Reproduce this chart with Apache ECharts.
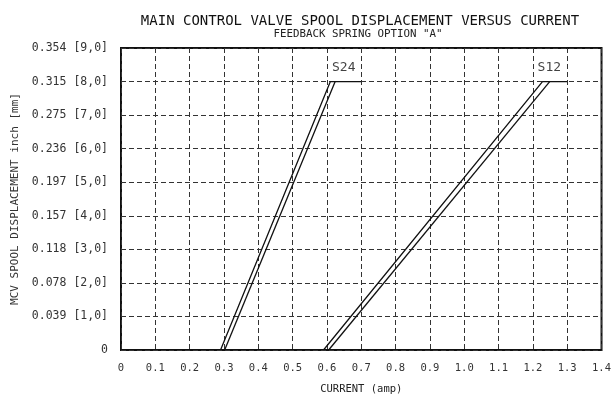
<!DOCTYPE html>
<html>
<head>
<meta charset="utf-8">
<script src="https://cdn.jsdelivr.net/npm/echarts@6/dist/echarts.min.js"></script>
<style>html,body{margin:0;padding:0;background:#fff;}#c{width:614px;height:400px;}</style>
</head>
<body>
<div id="c"></div>
<script>
// Data (x: current in amp, y: spool displacement in mm)
const xTickLabels = ['0','0.1','0.2','0.3','0.4','0.5','0.6','0.7','0.8','0.9','1.0','1.1','1.2','1.3','1.4'];
const yTickLabels = ['0','0.039 [1,0]','0.078 [2,0]','0.118 [3,0]','0.157 [4,0]','0.197 [5,0]','0.236 [6,0]','0.275 [7,0]','0.315 [8,0]','0.354 [9,0]'];
const s24Outer = [[0.290, 0], [0.610, 8], [0.700, 8]];
const s24Inner = [[0.302, 0], [0.624, 8]];
const s12Outer = [[0.590, 0], [1.228, 8], [1.300, 8]];
const s12Inner = [[0.605, 0], [1.249, 8]];
const curveLabels = [{ name: 'S24', value: [0.649, 8] }, { name: 'S12', value: [1.248, 8] }];

const FONT = '"DejaVu Sans Mono", monospace';
const chart = echarts.init(document.getElementById('c'), null, { renderer: 'canvas' });

function lineSeries(data) {
  return {
    type: 'line', data: data, symbol: 'none', silent: true,
    lineStyle: { color: '#111', width: 1.3 }, z: 5
  };
}

chart.setOption({
  animation: false,
  backgroundColor: '#fff',
  title: [{
    text: 'MAIN CONTROL VALVE SPOOL DISPLACEMENT VERSUS CURRENT',
    left: 355, top: 9, textAlign: 'center',
    textStyle: { fontFamily: FONT, fontSize: 14, fontWeight: 'normal', color: '#111' }
  }, {
    text: 'FEEDBACK SPRING OPTION "A"',
    left: 353, top: 24, textAlign: 'center',
    textStyle: { fontFamily: FONT, fontSize: 10.8, fontWeight: 'normal', color: '#222' }
  }],
  grid: {
    left: 121, right: 12, top: 48, bottom: 46,
    show: true, borderColor: '#111', borderWidth: 2, backgroundColor: 'transparent'
  },
  xAxis: {
    type: 'value', min: 0, max: 1.4, interval: 0.1,
    name: 'CURRENT (amp)', nameLocation: 'middle', nameGap: 34,
    nameTextStyle: { fontFamily: FONT, fontSize: 10.5, color: '#222' },
    axisLine: { show: false }, axisTick: { show: false },
    axisLabel: {
      margin: 13, fontFamily: FONT, fontSize: 10.5, color: '#333',
      formatter: function (v) { return xTickLabels[Math.round(v * 10)]; }
    },
    splitLine: { show: true, lineStyle: { color: '#333', width: 1, type: [5, 3] } }
  },
  yAxis: {
    type: 'value', min: 0, max: 9, interval: 1,
    name: 'MCV SPOOL DISPLACEMENT inch [mm]', nameLocation: 'middle', nameGap: 100,
    nameTextStyle: { fontFamily: FONT, fontSize: 11, color: '#333' },
    axisLine: { show: false }, axisTick: { show: false },
    axisLabel: {
      margin: 13, fontFamily: FONT, fontSize: 11.5, color: '#333',
      formatter: function (v) { return yTickLabels[Math.round(v)]; }
    },
    splitLine: { show: true, lineStyle: { color: '#333', width: 1, type: [5, 3] } }
  },
  series: [
    lineSeries(s24Outer), lineSeries(s24Inner),
    lineSeries(s12Outer), lineSeries(s12Inner),
    {
      type: 'scatter', data: curveLabels, symbolSize: 0, silent: true, z: 6,
      label: {
        show: true, position: 'top', distance: 7,
        formatter: function (p) { return p.name; },
        fontFamily: FONT, fontSize: 13, color: '#111'
      }
    }
  ]
});
</script>
</body>
</html>
